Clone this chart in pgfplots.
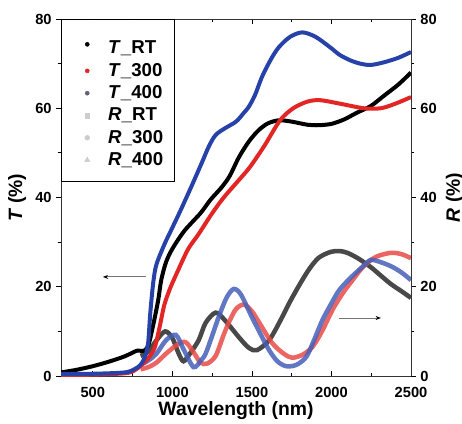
\documentclass[border=0pt]{standalone}
\usepackage{fontspec}
\setmainfont{Liberation Sans}
\usepackage{pgfplots}
\pgfplotsset{compat=1.18}
\usetikzlibrary{arrows.meta}
\definecolor{tblue}{RGB}{38,66,168}
\definecolor{tred}{RGB}{226,38,38}
\definecolor{rblue}{RGB}{70,95,185}
\definecolor{rred}{RGB}{232,75,70}
\definecolor{rblack}{RGB}{40,40,40}
\definecolor{lgray}{RGB}{205,205,205}
\definecolor{dgray}{RGB}{95,100,115}
\pgfplotsset{mylegimg/.style={legend image code/.code={\path (0,0) (0.85cm,0); \draw[##1, line width=0.4pt] plot coordinates {(0.42cm,0cm)};}}}
\begin{document}
\begin{tikzpicture}
\begin{axis}[name=main, scale only axis, width=262.5pt, height=267.75pt,
  xmin=300, xmax=2500, ymin=0, ymax=80,
  axis y line*=left,
  xtick={500,1000,...,2500}, minor xtick={750,1250,...,2250},
  ytick={0,20,...,80}, minor ytick={10,30,...,70},
  xtick align=inside, ytick align=outside,
  major tick length=3.5pt, minor tick length=2.5pt,
  every tick/.style={black, line width=0.6pt},
  axis line style={line width=0.7pt, black!80},
  tick label style={font=\bfseries\fontsize{11}{13}\selectfont},
  xticklabel style={yshift=-5pt},
  /pgf/number format/assume math mode=true,
  /pgf/number format/1000 sep={},
  xlabel={\bfseries Wavelength (nm)},
  xlabel style={yshift=4pt},
  ylabel={\bfseries\itshape T\upshape\ (\%)},
  label style={font=\bfseries\fontsize{14.5}{16}\selectfont},
  legend style={at={(0,1)}, anchor=north west, draw=black, line width=0.5pt,
    font=\bfseries\fontsize{14}{16}\selectfont, inner xsep=6pt, inner ysep=8pt, row sep=1.5pt},
  legend cell align=left,
  every axis plot/.append style={smooth, line width=3pt},
]
\addlegendimage{mylegimg, only marks, mark=*, mark size=1.5pt, black}
\addlegendentry{\rule{0pt}{16pt}\textit{T}\_RT}
\addlegendimage{mylegimg, only marks, mark=*, mark size=1.5pt, tred}
\addlegendentry{\textit{T}\_300}
\addlegendimage{mylegimg, only marks, mark=*, mark size=1.5pt, dgray}
\addlegendentry{\textit{T}\_400}
\addlegendimage{mylegimg, only marks, mark=square*, mark size=1.8pt, lgray}
\addlegendentry{\textit{R}\_RT}
\addlegendimage{mylegimg, only marks, mark=*, mark size=1.8pt, lgray}
\addlegendentry{\textit{R}\_300}
\addlegendimage{mylegimg, only marks, mark=triangle*, mark size=2.2pt, lgray}
\addlegendentry{\textit{R}\_400}

% R curves (right axis, same 0-80 scale)
\addplot[rblack, opacity=0.85, line width=3.4pt, forget plot] coordinates {
(800,4.5)(850,5.5)(900,8)(955,10)(1000,8.5)(1040,5)(1070,3.3)(1110,5)(1165,8)(1209,11.9)
(1272,14.2)(1330,12.5)(1418,8.7)(1481,6.3)(1532,5.8)(1608,8)(1680,12.5)(1734,16.3)(1800,20.5)
(1861,24)(1920,26.5)(1994,27.8)(2050,28)(2100,27.6)(2170,26.3)(2247,24.4)(2310,22.5)(2374,20.6)
(2440,19)(2500,17.5)};
\addplot[rred, opacity=0.85, line width=3.4pt, forget plot] coordinates {
(800,1.5)(850,2)(900,3)(960,5)(1030,7)(1082,7.6)(1130,5.5)(1177,3)(1220,2.8)(1272,4.5)
(1320,9)(1355,12)(1400,15)(1450,16)(1500,14.5)(1545,12)(1627,7.4)(1700,5)(1753,4.1)(1820,4.8)
(1880,6.5)(1940,10)(2006,14.8)(2070,18.5)(2133,21.5)(2200,24.5)(2280,26.7)(2374,27.6)(2440,27.3)(2500,26.4)};
\addplot[rblue, opacity=0.85, line width=3.4pt, forget plot] coordinates {
(800,2.5)(850,3.5)(900,5)(960,8)(1022,9.2)(1070,6)(1133,2)(1180,3.5)(1209,5)(1250,9)
(1291,13.2)(1340,17.5)(1385,19.5)(1430,18.3)(1500,13.2)(1560,9)(1608,5.8)(1660,3.3)(1715,2.2)(1780,2.5)
(1842,4.3)(1890,8)(1943,12.5)(2000,16.3)(2050,19.3)(2120,22)(2196,24.5)(2247,26)(2310,25.5)(2380,24.5)
(2440,23.2)(2500,21.5)};

% T curves
\addplot[black, forget plot] coordinates {
(300,0.8)(400,1.4)(500,2.2)(600,3.2)(700,4.4)(780,5.7)(820,5.6)(850,7)(880,11.5)(911,17)
(930,21.5)(960,25.5)(1000,28.5)(1075,32.5)(1177,36.5)(1240,39.5)(1310,42.3)(1360,44.8)(1418,49)(1480,52.5)
(1540,55)(1600,56.6)(1670,57.3)(1750,57)(1850,56.3)(1920,56.2)(2000,56.5)(2080,57.5)(2160,59)(2247,60.5)
(2330,62.8)(2420,65.3)(2500,68)};
\addplot[tred, forget plot] coordinates {
(300,0.2)(500,0.3)(700,0.6)(760,1.2)(800,2.3)(850,4)(890,6.5)(920,11)(950,16)(990,20)
(1040,24)(1100,28.5)(1165,31.8)(1247,36.3)(1323,40)(1418,43.9)(1487,46.8)(1577,51.5)(1677,57.3)(1760,60)
(1850,61.5)(1930,61.8)(2057,61)(2203,60)(2310,60)(2400,61)(2500,62.5)};
\addplot[tblue, forget plot] coordinates {
(300,0.5)(500,0.5)(700,0.8)(760,1.5)(800,2.5)(830,4.5)(848,7.5)(861,14)(880,21)(900,25)
(950,29.5)(990,32.5)(1050,37)(1120,42.5)(1184,47.7)(1230,51.5)(1272,54)(1330,55.5)(1400,57)(1450,59)
(1480,60.3)(1520,63)(1563,67)(1620,71)(1670,73.7)(1740,76)(1817,77)(1900,76)(1990,73.7)(2050,72)
(2114,70.8)(2180,70)(2247,69.7)(2330,70.3)(2420,71.3)(2500,72.6)};

\draw[black!55, line width=0.7pt, -{Stealth[black, length=4pt, width=3pt]}] (axis cs:835,22.2) -- (axis cs:563,22.2);
\draw[black!55, line width=0.7pt, -{Stealth[black, length=4pt, width=3pt]}] (axis cs:2045,13) -- (axis cs:2311,13);
\end{axis}
\begin{axis}[scale only axis, width=262.5pt, height=267.75pt,
  xmin=300, xmax=2500, ymin=0, ymax=80,
  axis x line=none, axis y line*=right,
  ytick={0,20,...,80}, minor ytick={10,30,...,70},
  ytick align=outside,
  major tick length=3.5pt, minor tick length=2.5pt,
  every tick/.style={black, line width=0.6pt},
  axis line style={line width=0.7pt, black!80},
  tick label style={font=\bfseries\fontsize{11}{13}\selectfont},
  /pgf/number format/assume math mode=true,
  ylabel={\bfseries\itshape R\upshape\ (\%)},
  label style={font=\bfseries\fontsize{14.5}{16}\selectfont},
]
\addplot[draw=none] coordinates {(300,0)};
\end{axis}
\pgfresetboundingbox
\path (main.south west) ++(-45.75pt,-35.25pt) rectangle ([xshift=38.25pt,yshift=14.25pt]main.north east);
\end{tikzpicture}
\end{document}
